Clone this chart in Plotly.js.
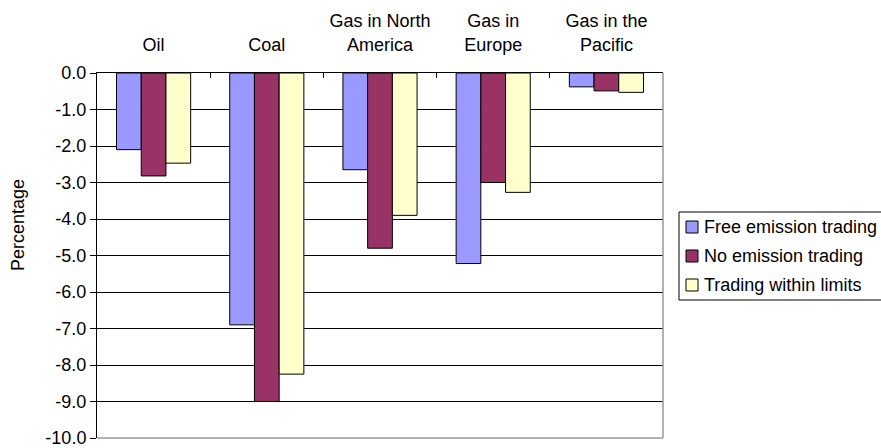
<!DOCTYPE html>
<html>
<head>
<meta charset="utf-8">
<script src="https://cdn.plot.ly/plotly-3.0.1.min.js"></script>
<style>html,body{margin:0;padding:0;background:#fff;}#chart{width:881px;height:448px;}</style>
</head>
<body>
<div id="chart"></div>
<script>
const categories = ["Oil", "Coal", "Gas in North<br>America", "Gas in<br>Europe", "Gas in the<br>Pacific"];
const seriesNames = ["Free emission trading", "No emission trading", "Trading within limits"];
const freeTrading = [-2.1, -6.9, -2.65, -5.22, -0.38];
const noTrading = [-2.82, -9.0, -4.8, -3.0, -0.49];
const limitedTrading = [-2.47, -8.25, -3.9, -3.27, -0.53];
const yTickValues = [0, -1, -2, -3, -4, -5, -6, -7, -8, -9, -10];
const yTickText = ["0.0", "-1.0", "-2.0", "-3.0", "-4.0", "-5.0", "-6.0", "-7.0", "-8.0", "-9.0", "-10.0"];

const colors = ["#9999FF", "#993366", "#FFFFCC"];
const values = [freeTrading, noTrading, limitedTrading];

const traces = values.map((v, i) => ({
  type: "bar",
  name: seriesNames[i],
  x: categories,
  y: v,
  marker: {color: colors[i], line: {color: "#000", width: 1}},
  hoverinfo: "skip",
  showlegend: false
}));

const font = {family: "Liberation Sans, Arial, sans-serif", size: 18, color: "#000"};

// plot area pixel geometry helpers (paper coordinates)
const L = 97, T = 73, W = 566, H = 365;
const px = x => (x - L) / W;
const py = y => (T + H - y) / H;

const shapes = [
  {type: "line", xref: "paper", yref: "paper", x0: 1, x1: 1, y0: 0, y1: 1, line: {color: "#999", width: 1.5}},
  {type: "line", xref: "paper", yref: "paper", x0: 0, x1: 1, y0: 0, y1: 0, line: {color: "#999", width: 1.5}},
  {type: "rect", xref: "paper", yref: "paper", x0: px(679), x1: px(890), y0: py(300), y1: py(212), line: {color: "#000", width: 1}, fillcolor: "rgba(0,0,0,0)"}
];
const annotations = [
  {xref: "paper", yref: "paper", x: px(18), y: py(225), text: "Percentage", textangle: -90, showarrow: false, font: font, xanchor: "center", yanchor: "middle"}
];
const rowCenters = [227, 256, 285];
seriesNames.forEach((name, i) => {
  const c = rowCenters[i];
  shapes.push({type: "rect", xref: "paper", yref: "paper", x0: px(686), x1: px(698), y0: py(c + 6), y1: py(c - 6), line: {color: "#000", width: 1}, fillcolor: colors[i]});
  annotations.push({xref: "paper", yref: "paper", x: px(702), y: py(c), text: name, showarrow: false, font: font, xanchor: "left", yanchor: "middle"});
});

const layout = {
  width: 881, height: 448,
  margin: {l: L, r: 881 - L - W, t: T, b: 448 - T - H, pad: 0},
  paper_bgcolor: "#fff", plot_bgcolor: "#fff",
  font: font,
  barmode: "group",
  bargap: 0.345,
  bargroupgap: 0,
  showlegend: false,
  xaxis: {
    side: "top",
    type: "category",
    tickson: "boundaries",
    ticks: "inside", ticklen: 5, tickcolor: "#000",
    showline: true, linecolor: "#000", linewidth: 1,
    showgrid: false, zeroline: false,
    tickfont: font,
    ticklabelstandoff: 14,
    fixedrange: true
  },
  yaxis: {
    range: [-10, 0],
    tickvals: yTickValues,
    ticktext: yTickText,
    ticks: "outside", ticklen: 6, tickcolor: "#000",
    showline: true, linecolor: "#000", linewidth: 1,
    showgrid: true, gridcolor: "#000", gridwidth: 1,
    zeroline: false,
    tickfont: font,
    ticklabeloverflow: "allow",
    fixedrange: true
  },
  shapes: shapes,
  annotations: annotations
};

Plotly.newPlot("chart", traces, layout, {displayModeBar: false, staticPlot: true});
</script>
</body>
</html>
